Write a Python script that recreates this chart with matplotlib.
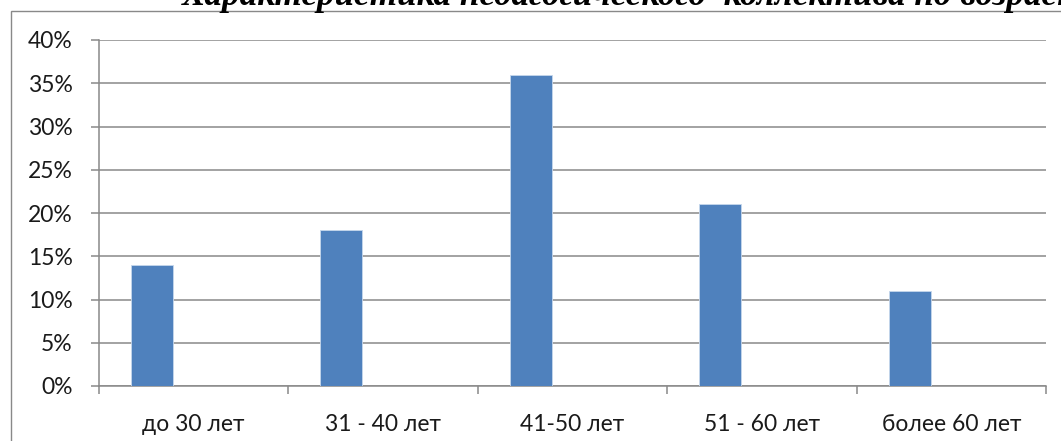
import matplotlib
matplotlib.use("Agg")
import matplotlib.pyplot as plt
from matplotlib.patches import Rectangle
from matplotlib.ticker import FixedLocator, NullFormatter, FixedFormatter

categories = ["до 30 лет", "31 - 40 лет", "41-50 лет", "51 - 60 лет", "более 60 лет"]
values = [14, 18, 36, 21, 11]
yticks = [0, 5, 10, 15, 20, 25, 30, 35, 40]
title = "Характеристика педагогического  коллектива по возрасту"

W, H = 1061, 441
fig = plt.figure(figsize=(W / 100, H / 100), dpi=100)
fig.patch.set_facecolor("white")

grey = "#898989"
# outer chart frame (cropped)
fig.patches.append(Rectangle((11 / W, -0.5), 2.0, (H - 11) / H + 0.5,
                             transform=fig.transFigure, fill=False,
                             edgecolor=grey, linewidth=1.0))

ax = fig.add_axes([99 / W, (H - 386) / H, (1046 - 99) / W, (386 - 40) / H])
n = len(categories)
xs = [i + 0.5 - 0.22 for i in range(n)]
ax.bar(xs, values, width=0.222, color="#4F81BD", edgecolor="#c6d7ec",
       linewidth=0.6, zorder=3)

ax.set_xlim(0, n)
ax.set_ylim(0, 40)
ax.set_yticks(yticks)
ax.set_yticklabels([f"{v}%" for v in yticks])
ax.yaxis.grid(True, color=grey, linewidth=1.1, zorder=0)
ax.set_axisbelow(True)

ax.xaxis.set_major_locator(FixedLocator(list(range(n + 1))))
ax.xaxis.set_major_formatter(NullFormatter())
ax.xaxis.set_minor_locator(FixedLocator([i + 0.5 for i in range(n)]))
ax.xaxis.set_minor_formatter(FixedFormatter(categories))
ax.tick_params(axis="x", which="major", length=5.5, width=1.1, color=grey)
ax.tick_params(axis="x", which="minor", length=0, pad=20)
ax.tick_params(axis="y", length=5.8, width=1.1, color=grey, pad=13)

for lab in ax.get_xticklabels(minor=True) + ax.get_yticklabels():
    lab.set_fontfamily("Lato")
    lab.set_fontsize(16.5)
    lab.set_color("#1a1a1a")

for s in ["top", "right"]:
    ax.spines[s].set_visible(False)
for s in ["left", "bottom"]:
    ax.spines[s].set_color(grey)
    ax.spines[s].set_linewidth(1.1)

# title, partially cropped at the top (as in the reference)
t = fig.text(182 / W, (H - 5) / H, title, fontfamily="Liberation Serif",
             fontweight="bold", fontstyle="italic", fontsize=10,
             ha="left", va="baseline")
fig.canvas.draw()
r = fig.canvas.get_renderer()
probe = fig.text(0, 0, "Характеристика педагогического  коллектива по возрас",
                 fontfamily="Liberation Serif", fontweight="bold",
                 fontstyle="italic", fontsize=10)
w = probe.get_window_extent(r).width
probe.remove()
t.set_fontsize(10 * (1061 - 182) / w)

fig.savefig("out.png", dpi=100, facecolor="white")
